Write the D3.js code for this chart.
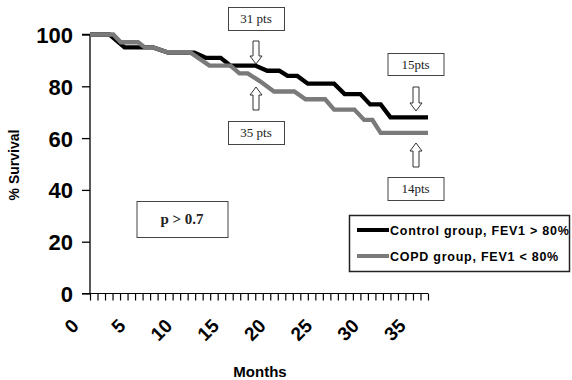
<!DOCTYPE html>
<html>
<head>
<meta charset="utf-8">
<script src="https://cdn.jsdelivr.net/npm/d3@7"></script>
<style>
	body { margin: 0; background: #fff; }
	svg { display: block; }
	.tick text { font-family: "Liberation Sans", Arial, sans-serif; font-weight: bold; }
</style>
</head>
<body>
<div id="chart"></div>
<script>
// survival curves, x in axis category units (45 ticks), y in % survival
var controlTime = [0, 2.6, 4.6, 8.4, 10.4, 13.9, 15.4, 17.4, 18.7, 22, 23.6, 25.2, 26.3, 27.6, 29, 32.5, 33.9, 36, 37.3, 38.7, 40, 45];
var controlSurv = [100, 100, 95, 95, 93, 93, 91, 91, 88, 88, 86, 86, 84, 84, 81, 81, 77, 77, 73, 73, 68, 68];
var copdTime = [0, 3.1, 4.1, 6.4, 7.3, 8.4, 10.4, 13.4, 15.9, 18.7, 19.9, 21, 22.6, 24.5, 27.2, 28.7, 31.3, 32.5, 35.2, 36.5, 37.6, 38.7, 45];
var copdSurv = [100, 100, 97, 97, 95, 95, 93, 93, 88, 88, 85, 85, 82, 78, 78, 75, 75, 71, 71, 67, 67, 62, 62];
var yTicks = [0, 20, 40, 60, 80, 100];
var monthLabels = [0, 5, 10, 15, 20, 25, 30, 35];
var seriesNames = ["Control group, FEV1 > 80%", "COPD group, FEV1 < 80%"];
var seriesColors = ["#000000", "#7a7a7a"];
var ptsLabels = ["31 pts", "35 pts", "15pts", "14pts"];
var pText = "p > 0.7";

(function() {
	var W = 572, H = 380;
	var svg = d3.select('#chart').append('svg')
		.attr('width', W).attr('height', H);

	var x = d3.scaleLinear().domain([0, 45]).range([90, 428]);
	var y = d3.scaleLinear().domain([0, 100]).range([293.5, 34.5]);
	// month labels sit on their own spacing (as in the original figure)
	var xm = d3.scaleLinear().domain([0, 35]).range([80, 407]);

	// y axis
	var ya = svg.append('g')
		.attr('transform', 'translate(90,0)')
		.call(d3.axisLeft(y).tickValues(yTicks).tickSize(8).tickPadding(9));
	ya.selectAll('text').attr('font-size', 22).attr('fill', '#000').attr('dy', '0.36em');
	ya.selectAll('line,path').attr('stroke', '#000').attr('stroke-width', 1.3);
	ya.select('.domain').attr('d', 'M0,' + y(0) + 'V' + y(100) + 'H-8');

	// x axis
	var xa = svg.append('g')
		.attr('transform', 'translate(0,' + y(0) + ')')
		.call(d3.axisBottom(x).tickValues(d3.range(0, 46)).tickSize(7).tickFormat(''));
	xa.selectAll('line,path').attr('stroke', '#000').attr('stroke-width', 1.2);
	xa.select('.domain').attr('d', 'M82,0H' + x(45));

	svg.append('g').selectAll('text')
		.data(monthLabels)
		.join('text')
		.attr('transform', function(d) { return 'translate(' + xm(d) + ',327) rotate(-45)'; })
		.attr('text-anchor', 'end')
		.attr('font-family', '"Liberation Sans", Arial, sans-serif')
		.attr('font-weight', 'bold')
		.attr('font-size', 19)
		.text(function(d) { return d; });

	svg.append('text')
		.attr('x', 260).attr('y', 377)
		.attr('text-anchor', 'middle')
		.attr('font-family', '"Liberation Sans", Arial, sans-serif')
		.attr('font-weight', 'bold')
		.attr('font-size', 15)
		.text('Months');

	svg.append('text')
		.attr('transform', 'translate(19,165) rotate(-90)')
		.attr('text-anchor', 'middle')
		.attr('font-family', '"Liberation Sans", Arial, sans-serif')
		.attr('font-weight', 'bold')
		.attr('font-size', 14)
		.text('% Survival');

	// curves
	var line = d3.line()
		.x(function(d) { return x(d[0]); })
		.y(function(d) { return y(d[1]); });
	var curves = [d3.zip(controlTime, controlSurv), d3.zip(copdTime, copdSurv)];
	svg.append('g').selectAll('path')
		.data(curves)
		.join('path')
		.attr('d', line)
		.attr('fill', 'none')
		.attr('stroke', function(d, i) { return seriesColors[i]; })
		.attr('stroke-width', 4.3)
		.attr('stroke-linejoin', 'miter');

	// hollow block arrows
	function arrow(cx, top, bot, down) {
		var hw = 6, sw = 3, hh = 8, p;
		if (down)
			p = [[cx - sw, top], [cx + sw, top], [cx + sw, bot - hh], [cx + hw, bot - hh], [cx, bot], [cx - hw, bot - hh], [cx - sw, bot - hh]];
		else
			p = [[cx, top], [cx + hw, top + hh], [cx + sw, top + hh], [cx + sw, bot], [cx - sw, bot], [cx - sw, top + hh], [cx - hw, top + hh]];
		svg.append('path')
			.attr('d', 'M' + p.join('L') + 'Z')
			.attr('fill', '#fff')
			.attr('stroke', '#333')
			.attr('stroke-width', 1);
	}
	function box(cx, cy, w, h, txt, fs, bold) {
		svg.append('rect')
			.attr('x', cx - w / 2 + 0.5).attr('y', cy - h / 2 + 0.5)
			.attr('width', w).attr('height', h)
			.attr('fill', '#fff').attr('stroke', '#444').attr('stroke-width', 1);
		svg.append('text')
			.attr('x', cx).attr('y', cy)
			.attr('dy', '0.35em')
			.attr('text-anchor', 'middle')
			.attr('font-family', '"Liberation Serif", "Times New Roman", serif')
			.attr('font-size', fs)
			.attr('font-weight', bold ? 'bold' : 'normal')
			.attr('fill', '#222')
			.text(txt);
	}
	box(256, 18.5, 56, 23, ptsLabels[0], 13);
	arrow(256, 41, 64, true);
	arrow(256, 87, 110, false);
	box(256, 132.5, 56, 23, ptsLabels[1], 13);
	box(415.5, 64, 56, 22, ptsLabels[2], 13);
	arrow(416, 87, 111, true);
	arrow(416, 143, 167, false);
	box(415.5, 188.5, 56, 23, ptsLabels[3], 13);

	box(182, 219, 91, 36, pText, 15, true);

	// legend
	var lg = svg.append('g');
	lg.append('rect')
		.attr('x', 349.5).attr('y', 215.5)
		.attr('width', 220).attr('height', 56)
		.attr('fill', '#fff').attr('stroke', '#222').attr('stroke-width', 1.5);
	seriesNames.forEach(function(name, i) {
		var ly = 230 + i * 26;
		lg.append('line')
			.attr('x1', 357).attr('x2', 389)
			.attr('y1', ly).attr('y2', ly)
			.attr('stroke', seriesColors[i]).attr('stroke-width', 4);
		lg.append('text')
			.attr('x', 390).attr('y', ly)
			.attr('dy', '0.36em')
			.attr('font-family', '"Liberation Sans", Arial, sans-serif')
			.attr('font-weight', 'bold')
			.attr('font-size', 12.5)
			.attr('letter-spacing', 0.75)
			.text(name);
	});
})();
</script>
</body>
</html>
